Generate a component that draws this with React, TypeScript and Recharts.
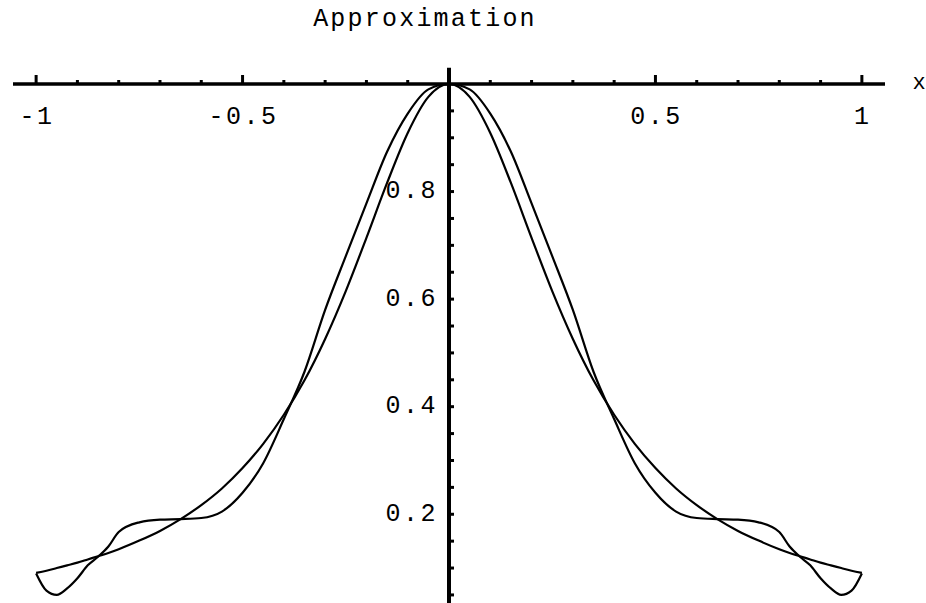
import { Line, LineChart, ReferenceDot, ReferenceLine, XAxis, YAxis } from 'recharts';

const FONT = '"Liberation Mono", "DejaVu Sans Mono", monospace';

// sample abscissae, denser near the ends where the approximation wiggles
const XS = [
  -1, -0.975, -0.95, -0.925, -0.9, -0.875, -0.85, -0.825, -0.8, -0.75, -0.7, -0.65, -0.6,
  -0.55, -0.5, -0.45, -0.4, -0.35, -0.3, -0.25, -0.2, -0.15, -0.1, -0.05, 0,
  0.05, 0.1, 0.15, 0.2, 0.25, 0.3, 0.35, 0.4, 0.45, 0.5, 0.55, 0.6, 0.65, 0.7, 0.75,
  0.8, 0.825, 0.85, 0.875, 0.9, 0.925, 0.95, 0.975, 1
];

// the smooth bell curve
const EXACT = [
  0.091, 0.095, 0.1, 0.105, 0.11, 0.116, 0.122, 0.128, 0.135, 0.151, 0.169, 0.191, 0.217,
  0.248, 0.286, 0.331, 0.385, 0.449, 0.526, 0.615, 0.714, 0.816, 0.909, 0.976, 1,
  0.976, 0.909, 0.816, 0.714, 0.615, 0.526, 0.449, 0.385, 0.331, 0.286, 0.248, 0.217, 0.191, 0.169, 0.151,
  0.135, 0.128, 0.122, 0.116, 0.11, 0.105, 0.1, 0.095, 0.091
];

// the approximating curve
const APPROX = [
  0.09, 0.058, 0.05, 0.062, 0.081, 0.105, 0.121, 0.14, 0.167, 0.185, 0.19, 0.191, 0.193,
  0.205, 0.24, 0.295, 0.377, 0.465, 0.58, 0.68, 0.778, 0.874, 0.945, 0.99, 1,
  0.99, 0.945, 0.874, 0.778, 0.68, 0.58, 0.465, 0.377, 0.295, 0.24, 0.205, 0.193, 0.191, 0.19, 0.185,
  0.167, 0.14, 0.121, 0.105, 0.081, 0.062, 0.05, 0.058, 0.09
];

const X_TICKS = [
  -1, -0.9, -0.8, -0.7, -0.6, -0.5, -0.4, -0.3, -0.2, -0.1,
  0.1, 0.2, 0.3, 0.4, 0.5, 0.6, 0.7, 0.8, 0.9, 1
];
const X_LABELS: Record<string, string> = { '-1': '-1', '-0.5': '-0.5', '0.5': '0.5', '1': '1' };

const Y_TICKS = [
  0.05, 0.1, 0.15, 0.2, 0.25, 0.3, 0.35, 0.4, 0.45, 0.5, 0.55, 0.6, 0.65, 0.7, 0.75, 0.8, 0.85, 0.9, 0.95
];
const Y_LABELS: Record<string, string> = { '0.2': '0.2', '0.4': '0.4', '0.6': '0.6', '0.8': '0.8' };

const data = XS.map((x, i) => ({ x, exact: EXACT[i], approx: APPROX[i] }));

const labelStyle = { fontFamily: FONT, fontSize: 25, letterSpacing: 2.5, fill: '#000' };

function XTick(props: any) {
  const { x, y, payload } = props;
  const label = X_LABELS[String(payload.value)];
  return (
    <g>
      <line x1={x} x2={x} y1={y} y2={y - (label ? 9 : 4)} stroke="#000" strokeWidth={3} />
      {label && (
        <text x={x + 1} y={y + 40} textAnchor="middle" style={labelStyle}>
          {label}
        </text>
      )}
    </g>
  );
}

function YTick({ cx, cy, label }: { cx: number; cy: number; label?: string }) {
  return (
    <g>
      <line x1={cx} x2={cx + 5} y1={cy} y2={cy} stroke="#000" strokeWidth={3} />
      {label && (
        <text x={cx - 11} y={cy} textAnchor="end" dominantBaseline="central" style={labelStyle}>
          {label}
        </text>
      )}
    </g>
  );
}

export default function App() {
  return (
    <div style={{ position: 'absolute', left: 0, top: 0, width: 926, height: 603, background: '#fff' }}>
      <LineChart width={926} height={603} data={data} margin={{ top: 54, right: 41, bottom: 0, left: 13 }}>
        <XAxis
          dataKey="x"
          type="number"
          orientation="top"
          height={30}
          domain={[-1.056, 1.056]}
          allowDataOverflow
          ticks={X_TICKS}
          interval={0}
          tickSize={0}
          tickMargin={0}
          tickLine={false}
          axisLine={{ stroke: '#000', strokeWidth: 3.5 }}
          tick={(p: any) => <XTick {...p} />}
        />
        <YAxis type="number" hide domain={[0.035, 1]} allowDataOverflow />
        <ReferenceLine
          segment={[{ x: 0, y: 0.035 }, { x: 0, y: 1.03 }]}
          ifOverflow="visible"
          stroke="#000"
          strokeWidth={4}
        />
        {Y_TICKS.map((v) => (
          <ReferenceDot
            key={v}
            x={0}
            y={v}
            r={0}
            ifOverflow="visible"
            shape={(p: any) => <YTick cx={p.cx} cy={p.cy} label={Y_LABELS[String(v)]} />}
          />
        ))}
        <Line
          type="monotone"
          dataKey="exact"
          stroke="#000"
          strokeWidth={2.2}
          dot={false}
          isAnimationActive={false}
        />
        <Line
          type="monotone"
          dataKey="approx"
          stroke="#000"
          strokeWidth={2.2}
          dot={false}
          isAnimationActive={false}
        />
      </LineChart>
      <svg width={926} height={603} style={{ position: 'absolute', left: 0, top: 0, pointerEvents: 'none' }}>
        <text x={425} y={26} textAnchor="middle" style={{ fontFamily: FONT, fontSize: 25, letterSpacing: 2.2, fill: '#000' }}>
          Approximation
        </text>
        <text x={919} y={89} textAnchor="middle" style={{ fontFamily: FONT, fontSize: 22, fill: '#000' }}>
          x
        </text>
      </svg>
    </div>
  );
}
